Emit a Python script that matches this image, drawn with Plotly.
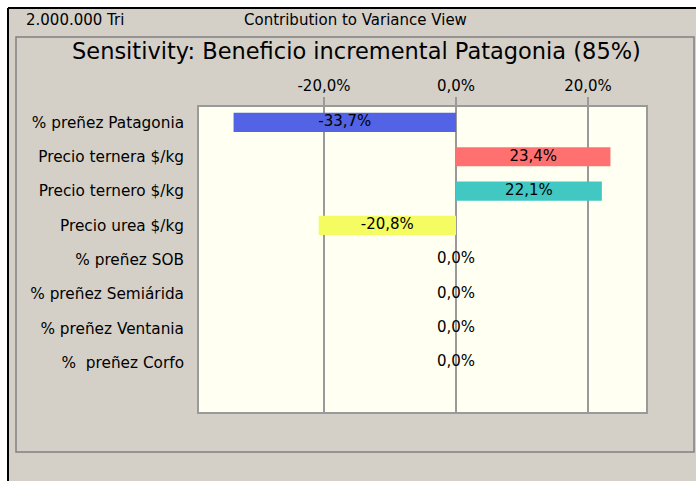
import plotly.graph_objects as go

W, H = 696, 481

categories = ["% preñez Patagonia", "Precio ternera $/kg", "Precio ternero $/kg",
              "Precio urea $/kg", "% preñez SOB", "% preñez Semiárida",
              "% preñez Ventania", "%\u00a0 preñez Corfo"]
values = [-33.7, 23.4, 22.1, -20.8, 0.0, 0.0, 0.0, 0.0]
bar_colors = ["#5263E6", "#FF7171", "#41C8C2", "#F5FC62",
              "#5263E6", "#5263E6", "#5263E6", "#5263E6"]
tick_vals = [-20, 0, 20]
tick_text = ["-20,0%", "0,0%", "20,0%"]
title_text = "Sensitivity: Beneficio incremental Patagonia (85%)"
header_left = "2.000.000 Tri"
header_center = "Contribution to Variance View"

labels = [f"{v:.1f}".replace(".", ",") + "%" for v in values]
label_x = [v / 2 for v in values]

FONT = "DejaVu Sans"


def px(x):
    return x / W


def py(y):
    return 1 - y / H


PL, PR, PT, PB = 198, 647, 106, 413

fig = go.Figure()
fig.add_trace(go.Bar(
    x=values, y=categories, orientation="h",
    marker=dict(color=bar_colors, line=dict(width=0)),
    width=0.56, hoverinfo="skip", showlegend=False,
))
fig.add_trace(go.Scatter(
    x=label_x, y=categories, mode="text", text=labels,
    textposition="middle center",
    textfont=dict(family=FONT, size=15, color="black"),
    hoverinfo="skip", showlegend=False,
))

shapes = [
    # white strips outside the outer window
    dict(type="rect", xref="paper", yref="paper", x0=0, x1=1, y0=py(8), y1=1,
         fillcolor="white", line=dict(width=0), layer="below"),
    dict(type="rect", xref="paper", yref="paper", x0=0, x1=px(8), y0=0, y1=1,
         fillcolor="white", line=dict(width=0), layer="below"),
    # outer black edges
    dict(type="line", xref="paper", yref="paper", x0=px(8), x1=1, y0=py(8), y1=py(8),
         line=dict(color="black", width=2)),
    dict(type="line", xref="paper", yref="paper", x0=px(8), x1=px(8), y0=0, y1=py(8),
         line=dict(color="black", width=2)),
    # inner panel frame
    dict(type="rect", xref="paper", yref="paper", x0=px(16), x1=px(694), y0=py(452), y1=py(37),
         line=dict(color="#808080", width=1.5)),
    # plot area border
    dict(type="rect", xref="paper", yref="paper", x0=px(PL), x1=px(PR), y0=py(PB), y1=py(PT),
         line=dict(color="#9A9A9A", width=2), layer="above"),
]

annotations = [
    dict(text=header_left, x=px(24), y=py(20), xref="paper", yref="paper",
         xanchor="left", yanchor="middle", showarrow=False,
         font=dict(family=FONT, size=15, color="black")),
    dict(text=header_center, x=px(355), y=py(20), xref="paper", yref="paper",
         xanchor="center", yanchor="middle", showarrow=False,
         font=dict(family=FONT, size=15, color="black")),
    dict(text=title_text, x=px(356), y=py(51), xref="paper", yref="paper",
         xanchor="center", yanchor="middle", showarrow=False,
         font=dict(family=FONT, size=22.5, color="black")),
]

fig.update_layout(
    width=W, height=H,
    margin=dict(l=0, r=0, t=0, b=0),
    paper_bgcolor="#D4D0C8",
    plot_bgcolor="#FFFFF2",
    shapes=shapes,
    annotations=annotations,
    bargap=0.44,
    xaxis=dict(
        domain=[px(PL), px(PR)], side="top",
        range=[-39.09, 28.94],
        tickvals=tick_vals, ticktext=tick_text,
        ticks="outside", ticklen=8, tickcolor="#9A9A9A", tickwidth=1.5,
        showgrid=True, gridcolor="#9A9A9A", gridwidth=1.5,
        zeroline=False, showline=False, layer="above traces",
        tickfont=dict(family=FONT, size=15, color="black"),
        fixedrange=True,
    ),
    yaxis=dict(
        domain=[py(PB), py(PT)], type="category",
        range=[8.47, -0.48],
        showgrid=False, zeroline=False, showline=False,
        ticks="", ticklabelstandoff=13,
        tickfont=dict(family=FONT, size=15.3, color="black"),
        fixedrange=True,
    ),
)

fig.write_html(
    "out.html",
    config={"displayModeBar": False},
    post_script="document.body.style.margin='0';document.body.style.overflow='hidden';",
)
